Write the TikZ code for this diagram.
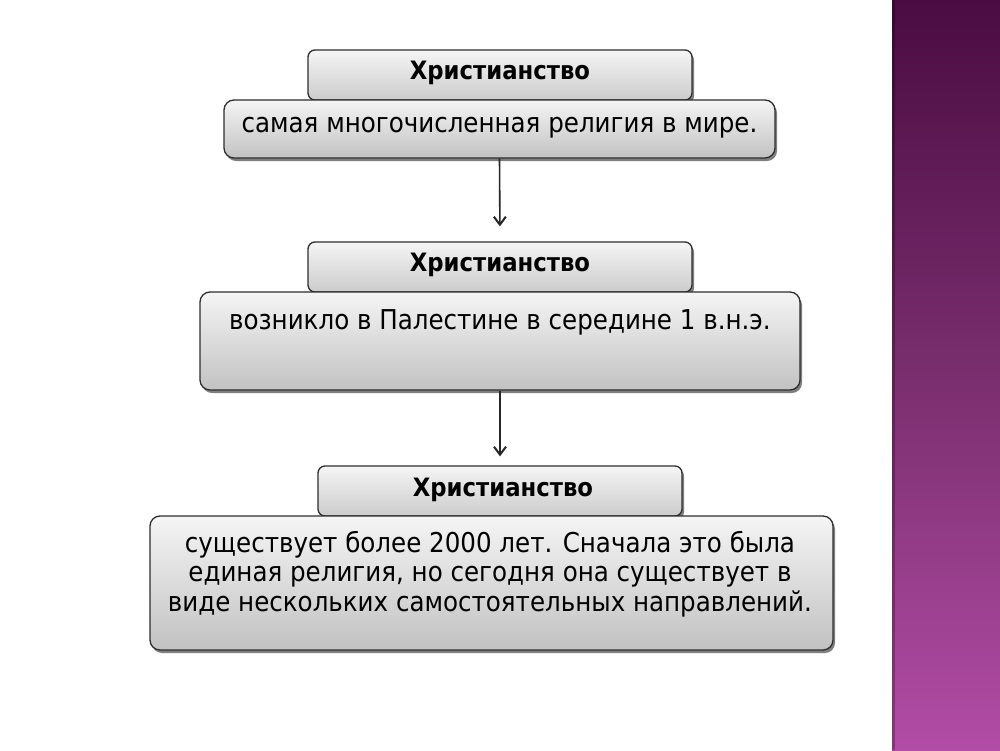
\documentclass[tikz,border=0pt]{standalone}
\usepackage{fontspec}
\setmainfont{DejaVu Sans Condensed}
\usetikzlibrary{shadows,arrows.meta}
\definecolor{edge}{HTML}{2E2E2E}
\definecolor{bartop}{HTML}{4A0C42}
\definecolor{barmid}{HTML}{7A2E6E}
\definecolor{barbot}{HTML}{B24CA6}
\tikzset{
  boxbase/.style={draw=edge, line width=1.3pt, inner sep=0pt,
    drop shadow={shadow xshift=2pt, shadow yshift=-3pt, opacity=0.5, fill=black}},
  headbox/.style={boxbase, rounded corners=7pt, top color=white!96!black, bottom color=white!80!black},
  headtext/.style={inner sep=0pt, font=\fontsize{25.3}{28}\selectfont\bfseries},
  bodybox/.style={boxbase, rounded corners=10pt, top color=white!96!black, bottom color=white!76!black},
  bodytext/.style={inner sep=0pt, align=center, font=\fontsize{27.3}{29.5}\selectfont},
  conn/.style={draw=black!85, line width=1.6pt, -{Straight Barb[length=8pt,width=12pt,line width=2pt]}}
}
\begin{document}
\begin{tikzpicture}[x=1pt,y=-1pt]
\useasboundingbox (0,0) rectangle (1000,750);
\fill[white] (0,0) rectangle (1000,750);
\shade[top color=bartop, bottom color=barbot, middle color=barmid] (892,0) rectangle (1000,750);
\fill[black, opacity=0.25] (892,0) rectangle (895,750);

% box 1
\node[headbox, minimum width=384, minimum height=50] (h1) at (500,75) {};
\node[bodybox, minimum width=551, minimum height=58] (b1) at (499.5,129) {};
\node[headtext] (t1) at (500,73) {Христианство};
\node[bodytext] (s1) at (499.5,128) {самая многочисленная религия в мире.};

% box 2
\node[headbox, minimum width=384, minimum height=50] (h2) at (500,267) {};
\node[bodybox, minimum width=600, minimum height=98] (b2) at (500,341) {};
\node[headtext] (t2) at (500,265) {Христианство};
\node[bodytext] (s2) at (500,322) {возникло в Палестине в середине 1 в.н.э.};

% box 3
\node[headbox, minimum width=364, minimum height=50] (h3) at (500,491) {};
\node[bodybox, minimum width=683, minimum height=134] (b3) at (491.5,583) {};
\node[headtext] (t3) at (503,490) {Христианство};
\node[bodytext, anchor=north] (s3) at (490,531) {существует более 2000 лет. Сначала это была\\единая религия, но сегодня она существует в\\виде нескольких самостоятельных направлений.};

% connectors
\draw[conn, shorten >=15pt] (b1.south) -- (h2.north);
\draw[conn, shorten >=9pt] (b2.south) -- (h3.north);
\end{tikzpicture}
\end{document}
